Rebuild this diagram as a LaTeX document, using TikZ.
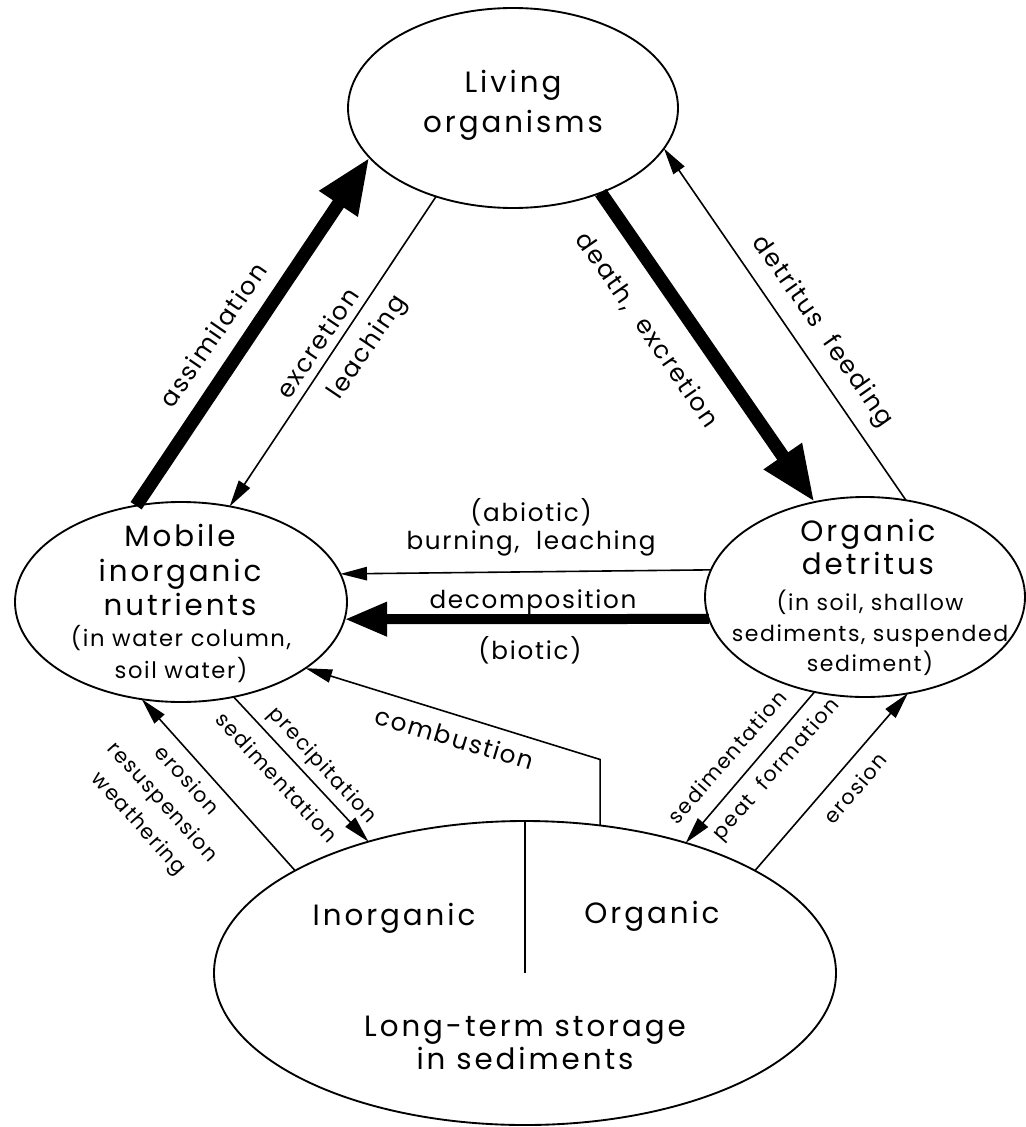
\documentclass[tikz,border=0pt]{standalone}
\usepackage{fontspec}
\setmainfont{Poppins}
\newfontfamily\titlefont{Poppins}[LetterSpace=10]
\newfontfamily\labelfont{Poppins}[LetterSpace=7]
\usetikzlibrary{shapes.geometric,arrows.meta}

\begin{document}
\begin{tikzpicture}[x=0.75pt,y=-0.75pt,
  pool/.style={ellipse,draw,line width=1.4pt,inner sep=0pt,outer sep=0pt},
  title/.style={font=\titlefont\fontsize{22}{30}\selectfont,inner sep=0pt,align=center},
  note/.style={font=\labelfont\fontsize{17}{24}\selectfont,inner sep=0pt,align=center},
  flow/.style={font=\labelfont\fontsize{18.5}{26}\selectfont,inner sep=0pt,align=center},
  minor/.style={font=\labelfont\fontsize{15.5}{24}\selectfont,inner sep=0pt,align=center},
  smallflow/.style={line width=1.2pt,-{Triangle[length=20pt,width=10pt]}},
  midflow/.style={line width=7.5pt,-{Triangle[length=32pt,width=24pt]}},
  bigflow/.style={line width=10pt,-{Triangle[length=42pt,width=32pt]}},
  divider/.style={line width=1.2pt}
]
% canvas
\path[fill=white] (0,0) rectangle (1023,1127);

% the four pools
\node[pool,minimum width=247.5pt,minimum height=150pt] (L) at (513,108) {};
\node[pool,minimum width=249pt,minimum height=150pt] (M) at (181,602) {};
\node[pool,minimum width=240pt,minimum height=150pt] (D) at (865,597) {};
\node[pool,minimum width=466.5pt,minimum height=228pt] (S) at (525,973) {};
\draw[divider] (S.north) -- (S.center);

% pool texts
\node[title] (Lt) at (513,105) {Living\\organisms};
\node[title,font=\titlefont\fontsize{22}{26}\selectfont] (Mt) at (180,570) {Mobile\\inorganic\\nutrients};
\node[note] (Mn) at (181,654) {(in water column,\\soil water)};
\node[title,font=\titlefont\fontsize{22}{25}\selectfont] (Dt) at (868,547) {Organic\\detritus};
\node[note,font=\labelfont\fontsize{16.5}{23}\selectfont] (Dn) at (870,633) {(in soil, shallow\\sediments, suspended\\sediment)};
\node[title] (Si) at (394,918) {Inorganic};
\node[title] (So) at (652,916) {Organic};
\node[title,font=\titlefont\fontsize{22}{25}\selectfont] (St) at (525,1043) {Long-term storage\\in sediments};

% flows between pools
\draw[bigflow] (M.115.9) -- (L.199.3);
\draw[smallflow] (L.229.5) -- (M.63.2);
\draw[bigflow] (L.-44.3) -- (D.118.2);
\draw[smallflow] (D.67.2) -- (L.-15.6);
\draw[smallflow] (D.170.8) -- (M.10.6);
\draw[midflow] (D.188.4) -- (M.-6.3);
\path (S.63.3) ++(0,-66) coordinate (cbend);
\draw[smallflow] (S.63.3) -- (cbend) -- (M.-28.7);
\draw[smallflow] (M.-61.6) -- (S.140.7);
\draw[smallflow] (S.156.3) -- (M.-112.7);
\draw[smallflow] (D.242.2) -- (S.39.7);
\draw[smallflow] (S.24.1) -- (D.-66.1);

% flow labels
\node[flow,rotate=55.5] (assim) at (213,335) {assimilation};
\node[flow,rotate=56.1] (excr) at (317,343) {excretion};
\node[flow,rotate=56.1] (leach) at (368,348) {leaching};
\node[flow,rotate=-55.2] (death) at (647,330) {death,\ \ excretion};
\node[flow,rotate=-54.9] (feed) at (822,332) {detritus\ \ feeding};
\node[flow] (abio) at (531,512) {(abiotic)};
\node[flow] (burn) at (531,543) {burning,\ \ leaching};
\node[flow] (decomp) at (533,602) {decomposition};
\node[flow] (bio) at (530,650) {(biotic)};
\node[flow,rotate=-16.8] (comb) at (455,738) {combustion};
\node[minor,rotate=-47.5] (precip) at (322,766) {precipitation};
\node[minor,rotate=-47.5] (sedl) at (277,777) {sedimentation};
\node[minor,rotate=-48] (eros) at (162,803) {erosion\\resuspension\\weathering};
\node[minor,rotate=48.8] (sedr) at (727,757) {sedimentation};
\node[minor,rotate=48.8] (peat) at (777,770) {peat\ \ formation};
\node[minor,rotate=49.5] (erosr) at (855,788) {erosion};
\end{tikzpicture}
\end{document}
